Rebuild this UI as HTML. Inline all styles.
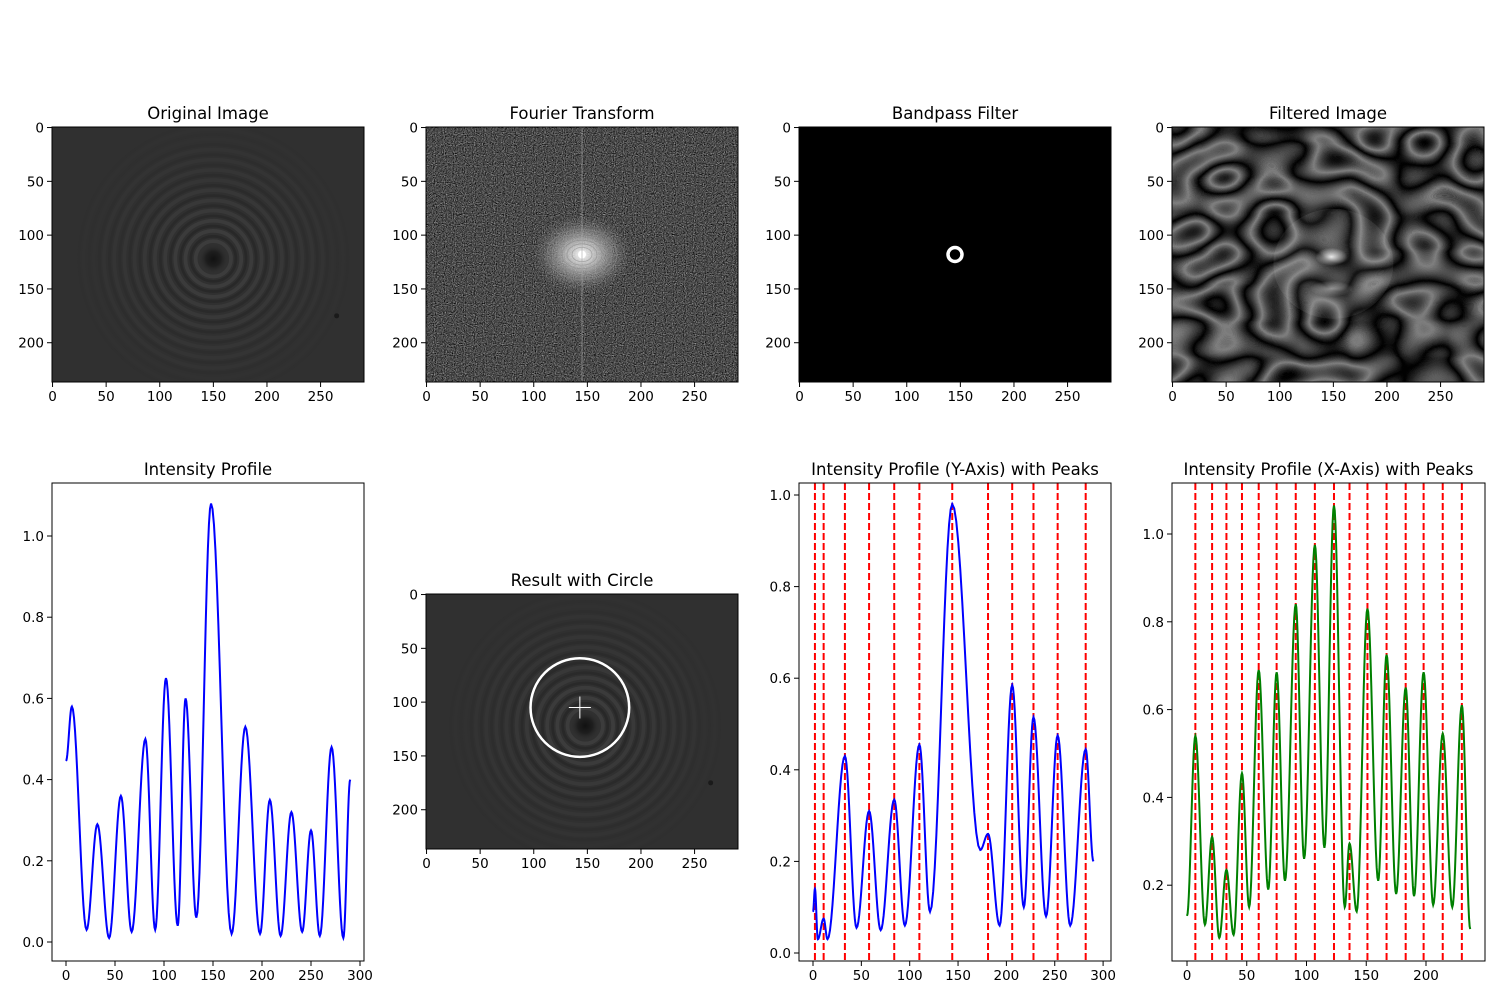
<!DOCTYPE html>
<html><head><meta charset="utf-8">
<style>
html,body{margin:0;padding:0;background:#fff;}
svg{display:block;font-family:"DejaVu Sans","Liberation Sans",sans-serif;}
</style></head>
<body>
<svg id="fig" width="1500" height="1000" viewBox="0 0 1500 1000" xmlns="http://www.w3.org/2000/svg">
<defs>
  <filter id="noise" x="0" y="0" width="1" height="1" color-interpolation-filters="sRGB">
    <feTurbulence type="fractalNoise" baseFrequency="0.9" numOctaves="1" seed="3"/>
    <feColorMatrix type="matrix" values="0.33 0.33 0.33 0 0  0.33 0.33 0.33 0 0  0.33 0.33 0.33 0 0  0 0 0 0 1"/>
    <feComponentTransfer><feFuncR type="linear" slope="1.6" intercept="-0.5"/><feFuncG type="linear" slope="1.6" intercept="-0.5"/><feFuncB type="linear" slope="1.6" intercept="-0.5"/></feComponentTransfer>
  </filter>
  <filter id="blobs" x="0" y="0" width="1" height="1" color-interpolation-filters="sRGB">
    <feTurbulence type="fractalNoise" baseFrequency="0.02 0.028" numOctaves="1" seed="7"/>
    <feColorMatrix type="matrix" values="1 0 0 0 0  1 0 0 0 0  1 0 0 0 0  0 0 0 0 1"/>
    <feComponentTransfer><feFuncR type="table" tableValues="0 0.45 0 0.5 0 0.5 0 0.45 0"/><feFuncG type="table" tableValues="0 0.45 0 0.5 0 0.5 0 0.45 0"/><feFuncB type="table" tableValues="0 0.45 0 0.5 0 0.5 0 0.45 0"/></feComponentTransfer>
  </filter>
  <radialGradient id="ftBlob">
    <stop offset="0" stop-color="#fff" stop-opacity="0.95"/>
    <stop offset="0.35" stop-color="#ccc" stop-opacity="0.75"/>
    <stop offset="1" stop-color="#777" stop-opacity="0"/>
  </radialGradient>
  <radialGradient id="centerDark">
    <stop offset="0" stop-color="#111"/>
    <stop offset="0.5" stop-color="#1e1e1e"/>
    <stop offset="1" stop-color="#303030" stop-opacity="0"/>
  </radialGradient>
  <radialGradient id="filtGlow">
    <stop offset="0" stop-color="#fff" stop-opacity="0.9"/>
    <stop offset="1" stop-color="#fff" stop-opacity="0"/>
  </radialGradient>
</defs>
</svg>
<script>
// ---------- data ----------
const p1X = [0,6,21,32,44,56,67,81,91,102,114,122,133,148,169,183,198,208,219,230,241,250,259,271,283,290];
const p1Y = [0.446,0.58,0.03,0.29,0.01,0.36,0.025,0.5,0.03,0.65,0.04,0.6,0.06,1.08,0.02,0.53,0.02,0.35,0.015,0.32,0.025,0.275,0.015,0.48,0.01,0.40];

const p3X = [0,2,5,11,15,33,45,58,70,84,95,110,121,144,173,181,193,206,218,228,241,253,266,282,290];
const p3Y = [0.09,0.14,0.03,0.075,0.03,0.43,0.055,0.31,0.05,0.335,0.06,0.455,0.09,0.98,0.225,0.26,0.06,0.585,0.1,0.515,0.08,0.475,0.06,0.445,0.2];
const p3Peaks = [2,11,33,58,84,110,144,181,206,228,253,282];

const p4X = [0,7,15,21,27,33,39,46,52,60,68,75,82,91,98,107,115,123,132,136,142,151,160,167,175,183,190,198,206,214,222,230,237];
const p4Y = [0.13,0.54,0.11,0.31,0.08,0.235,0.087,0.455,0.15,0.69,0.19,0.685,0.21,0.84,0.26,0.975,0.285,1.065,0.15,0.295,0.14,0.83,0.21,0.725,0.18,0.65,0.175,0.685,0.155,0.545,0.15,0.61,0.1];
const p4Peaks = [7,21,33,46,60,75,91,107,123,136,151,167,183,198,214,230];

const imgXTicks = [0,50,100,150,200,250];
const imgYTicks = [0,50,100,150,200];
const p1XTicks = [0,50,100,150,200,250,300];
const p1YTicks = [0,0.2,0.4,0.6,0.8,1.0];
const p3XTicks = [0,50,100,150,200,250,300];
const p3YTicks = [0,0.2,0.4,0.6,0.8,1.0];
const p4XTicks = [0,50,100,150,200];
const p4YTicks = [0.2,0.4,0.6,0.8,1.0];

// ---------- helpers ----------
const NS = "http://www.w3.org/2000/svg";
const fig = document.getElementById('fig');
function mk(tag, attrs, parent){
  const e = document.createElementNS(NS, tag);
  for (const k in attrs) e.setAttribute(k, attrs[k]);
  (parent||fig).appendChild(e);
  return e;
}
let clipId = 0;
function makeAxes(name, bx, by, bw, bh, xmin, xmax, ymin, ymax, invertY){
  const g = mk('g', {});
  
  
  const sx = v => bx + (v - xmin) / (xmax - xmin) * bw;
  const sy = invertY ? (v => by + (v - ymin) / (ymax - ymin) * bh)
                     : (v => by + bh - (v - ymin) / (ymax - ymin) * bh);
  const cid = 'clip' + (clipId++);
  const cp = mk('clipPath', {id: cid}, g);
  mk('rect', {x: bx, y: by, width: bw, height: bh}, cp);
  const plot = mk('g', {'clip-path': 'url(#' + cid + ')'}, g);
  return {g, plot, sx, sy, bx, by, bw, bh};
}
function finishAxes(ax, title, xt, yt, fmtY){
  const {g, sx, sy, bx, by, bw, bh} = ax;
  const frame = mk('rect', {x: bx, y: by, width: bw, height: bh, fill: 'none', stroke: '#000', 'stroke-width': 1}, g);
  
  
  xt.forEach(v => {
    const x = sx(v);
    mk('line', {x1: x, y1: by + bh, x2: x, y2: by + bh + 5, stroke: '#000', 'stroke-width': 1}, g);
    const t = mk('text', {x: x, y: by + bh + 19, 'font-size': 13.5, 'text-anchor': 'middle', fill: '#000'}, g);
    
    
    t.textContent = String(v);
  });
  yt.forEach(v => {
    const y = sy(v);
    mk('line', {x1: bx - 5, y1: y, x2: bx, y2: y, stroke: '#000', 'stroke-width': 1}, g);
    const t = mk('text', {x: bx - 8, y: y + 5, 'font-size': 13.5, 'text-anchor': 'end', fill: '#000'}, g);
    
    
    t.textContent = fmtY ? v.toFixed(1) : String(v);
  });
  const tt = mk('text', {x: bx + bw / 2, y: by - 8, 'font-size': 16.5, 'text-anchor': 'middle', fill: '#000'}, g);
  
  
  tt.textContent = title;
}
function curvePath(ax, xs, ys){
  let d = '';
  for (let i = 0; i < xs.length - 1; i++){
    const n = 14;
    for (let k = (i === 0 ? 0 : 1); k <= n; k++){
      const t = k / n;
      const x = xs[i] + (xs[i+1] - xs[i]) * t;
      const y = ys[i] + (ys[i+1] - ys[i]) * (1 - Math.cos(Math.PI * t)) / 2;
      d += (d ? 'L' : 'M') + ax.sx(x).toFixed(2) + ',' + ax.sy(y).toFixed(2);
    }
  }
  return d;
}

// ---------- image axes ----------
function imgAxes(name, bx, by){
  return makeAxes(name, bx, by, 312, 255, -0.5, 290.5, -0.5, 236.5, true);
}
function rings(ax, cx, cy, parent){
  mk('rect', {x: ax.bx, y: ax.by, width: ax.bw, height: ax.bh, fill: '#303030'}, parent);
  const s = ax.bw / 291;
  for (let i = 1; i <= 12; i++){
    const r = (7 + i * 9.5) * s;
    mk('circle', {cx: ax.sx(cx), cy: ax.sy(cy), r: r, fill: 'none', stroke: '#4a4a4a', 'stroke-width': 3.5 * s, 'stroke-opacity': Math.max(0.05, 0.55 - i * 0.045)}, parent);
    mk('circle', {cx: ax.sx(cx), cy: ax.sy(cy), r: r + 4.5 * s, fill: 'none', stroke: '#1f1f1f', 'stroke-width': 2.5 * s, 'stroke-opacity': Math.max(0.05, 0.5 - i * 0.04)}, parent);
  }
  mk('circle', {cx: ax.sx(cx), cy: ax.sy(cy), r: 14 * s, fill: 'url(#centerDark)'}, parent);
}

// Original image
const a1 = imgAxes('original-image-axes', 52, 127);
rings(a1, 150, 122, a1.plot);
mk('circle', {cx: a1.sx(265), cy: a1.sy(175), r: 2.5, fill: '#1a1a1a'}, a1.plot);
finishAxes(a1, 'Original Image', imgXTicks, imgYTicks, false);

// Fourier transform
const a2 = imgAxes('fourier-transform-axes', 426, 127);
mk('rect', {x: a2.bx, y: a2.by, width: a2.bw, height: a2.bh, fill: '#444', filter: 'url(#noise)'}, a2.plot);
mk('ellipse', {cx: a2.sx(145), cy: a2.sy(118), rx: 50, ry: 40, fill: 'url(#ftBlob)'}, a2.plot);
for (let i = 1; i <= 6; i++) mk('ellipse', {cx: a2.sx(145), cy: a2.sy(118), rx: 5 + i * 5, ry: 3.5 + i * 3.6, fill: 'none', stroke: '#888', 'stroke-width': 0.8, 'stroke-opacity': 0.6}, a2.plot);
mk('circle', {cx: a2.sx(145), cy: a2.sy(118), r: 4, fill: '#fff'}, a2.plot);
mk('line', {x1: a2.sx(145), y1: a2.by, x2: a2.sx(145), y2: a2.by + a2.bh, stroke: '#aaa', 'stroke-width': 1.2, 'stroke-opacity': 0.5}, a2.plot);
finishAxes(a2, 'Fourier Transform', imgXTicks, imgYTicks, false);

// Bandpass
const a3 = imgAxes('bandpass-filter-axes', 799, 127);
mk('rect', {x: a3.bx, y: a3.by, width: a3.bw, height: a3.bh, fill: '#000'}, a3.plot);
mk('circle', {cx: a3.sx(145), cy: a3.sy(118), r: 7, fill: 'none', stroke: '#fff', 'stroke-width': 3.5}, a3.plot);
finishAxes(a3, 'Bandpass Filter', imgXTicks, imgYTicks, false);

// Filtered image
const a4 = imgAxes('filtered-image-axes', 1172, 127);
mk('rect', {x: a4.bx, y: a4.by, width: a4.bw, height: a4.bh, fill: '#000', filter: 'url(#blobs)'}, a4.plot);
const fc = {x: a4.sx(150), y: a4.sy(122)};
mk('ellipse', {cx: fc.x, cy: fc.y + 5, rx: 60, ry: 55, fill: '#fff', 'fill-opacity': 0.08}, a4.plot);
mk('ellipse', {cx: fc.x - 2, cy: fc.y - 2, rx: 16, ry: 9, fill: 'url(#filtGlow)'}, a4.plot);
mk('ellipse', {cx: fc.x - 2, cy: fc.y + 30, rx: 22, ry: 8, fill: 'url(#filtGlow)', 'fill-opacity': 0.6}, a4.plot);
finishAxes(a4, 'Filtered Image', imgXTicks, imgYTicks, false);

// Result with circle
const a6 = imgAxes('result-with-circle-axes', 426, 594);
rings(a6, 148, 122, a6.plot);
mk('circle', {cx: a6.sx(265), cy: a6.sy(175), r: 2.5, fill: '#1a1a1a'}, a6.plot);
const circ = mk('circle', {cx: a6.sx(143), cy: a6.sy(105), r: 46 * a6.bw / 291, fill: 'none', stroke: '#fff', 'stroke-width': 2.5}, a6.plot);


mk('line', {x1: a6.sx(143) - 11, y1: a6.sy(105), x2: a6.sx(143) + 11, y2: a6.sy(105), stroke: '#fff', 'stroke-width': 1}, a6.plot);
mk('line', {x1: a6.sx(143), y1: a6.sy(105) - 11, x2: a6.sx(143), y2: a6.sy(105) + 11, stroke: '#fff', 'stroke-width': 1}, a6.plot);
finishAxes(a6, 'Result with Circle', imgXTicks, imgYTicks, false);

// ---------- line plots ----------
const b1 = makeAxes('intensity-profile-axes', 52, 483, 312, 478, (52 - 66) / 0.98, (364 - 66) / 0.98, (942 - 961) / 406, (942 - 483) / 406, false);
const l1 = mk('path', {d: curvePath(b1, p1X, p1Y), fill: 'none', stroke: '#0000ff', 'stroke-width': 2}, b1.plot);


finishAxes(b1, 'Intensity Profile', p1XTicks, p1YTicks, true);

const b3 = makeAxes('y-profile-axes', 799, 483, 312, 478, (799 - 813) / 0.967, (1111 - 813) / 0.967, (953 - 961) / 458, (953 - 483) / 458, false);
p3Peaks.forEach(p => {
  const l = mk('line', {x1: b3.sx(p), y1: b3.by, x2: b3.sx(p), y2: b3.by + b3.bh, stroke: '#ff0000', 'stroke-width': 2, 'stroke-dasharray': '7,3'}, b3.plot);
  
  
});
const l3 = mk('path', {d: curvePath(b3, p3X, p3Y), fill: 'none', stroke: '#0000ff', 'stroke-width': 2}, b3.plot);


finishAxes(b3, 'Intensity Profile (Y-Axis) with Peaks', p3XTicks, p3YTicks, true);

const b4 = makeAxes('x-profile-axes', 1172, 483, 313, 478, (1172 - 1187) / 1.195, (1485 - 1187) / 1.195, (973 - 961) / 439, (973 - 483) / 439, false);
p4Peaks.forEach(p => {
  const l = mk('line', {x1: b4.sx(p), y1: b4.by, x2: b4.sx(p), y2: b4.by + b4.bh, stroke: '#ff0000', 'stroke-width': 2, 'stroke-dasharray': '7,3'}, b4.plot);
  
  
});
const l4 = mk('path', {d: curvePath(b4, p4X, p4Y), fill: 'none', stroke: '#008000', 'stroke-width': 2}, b4.plot);


finishAxes(b4, 'Intensity Profile (X-Axis) with Peaks', p4XTicks, p4YTicks, true);
</script>
</body></html>
